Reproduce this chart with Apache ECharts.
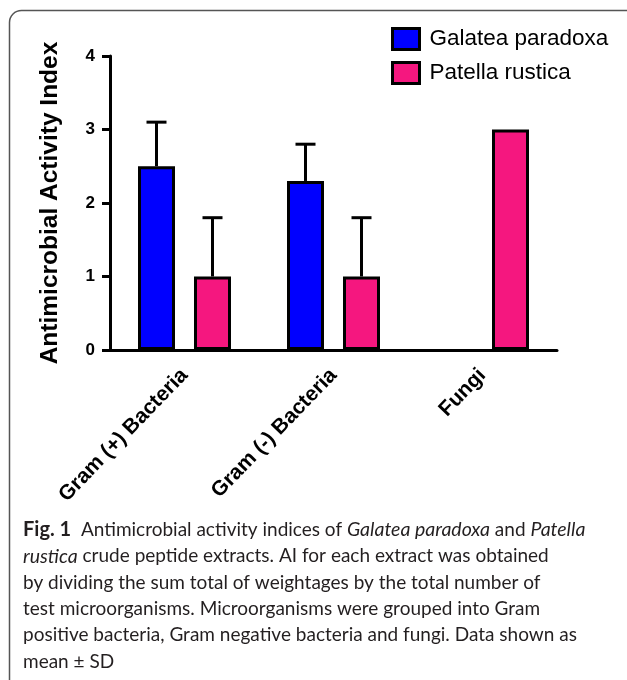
<!DOCTYPE html>
<html>
<head>
<meta charset="utf-8">
<script src="https://cdn.jsdelivr.net/npm/echarts@6/dist/echarts.min.js"></script>
<style>
  html, body { margin: 0; padding: 0; background: #fff; }
  #chart { width: 627px; height: 680px; }
</style>
</head>
<body>
<div id="chart"></div>
<script>
// ---- data ----
var categories = ['Gram (+) Bacteria', 'Gram (-) Bacteria', 'Fungi'];
var seriesNames = ['Galatea paradoxa', 'Patella rustica'];
var galateaMean = [2.5, 2.3, null];   // no bar drawn for fungi
var galateaSD   = [0.6, 0.5, null];
var patellaMean = [1.0, 1.0, 3.0];
var patellaSD   = [0.8, 0.8, null];
var yTicks = [0, 1, 2, 3, 4];

var captionLines = [
  '{b|Fig. 1}  Antimicrobial activity indices of {i|Galatea paradoxa} and {i|Patella}',
  '{i|rustica} crude peptide extracts. AI for each extract was obtained',
  'by dividing the sum total of weightages by the total number of',
  'test microorganisms. Microorganisms were grouped into Gram',
  'positive bacteria, Gram negative bacteria and fungi. Data shown as',
  'mean \u00b1 SD'
];

// ---- style ----
var BLUE = '#0000ff', PINK = '#f5177f';
var BAR_W = 37, GAP_PX = 19;
var OFFSET = (BAR_W + GAP_PX) / 2;
var FONT = 'Liberation Sans, Arial, sans-serif';
var CAP_FONT = 'Lato, sans-serif';
var CAP_SIZE = 19;

function errData(means, sds) {
  var out = [];
  for (var i = 0; i < means.length; i++) {
    if (means[i] != null && sds[i] != null) out.push([i, means[i], means[i] + sds[i]]);
  }
  return out;
}

function errRenderer(sign) {
  return function (params, api) {
    var base = api.coord([api.value(0), api.value(1)]);
    var top = api.coord([api.value(0), api.value(2)]);
    var x = base[0] + sign * OFFSET;
    var capHalf = 10;
    var st = { stroke: '#000', lineWidth: 3 };
    return {
      type: 'group',
      children: [
        { type: 'line', shape: { x1: x, y1: base[1], x2: x, y2: top[1] }, style: st },
        { type: 'line', shape: { x1: x - capHalf, y1: top[1], x2: x + capHalf, y2: top[1] }, style: st }
      ]
    };
  };
}

var graphics = [{
  type: 'rect',
  shape: { x: 9.5, y: 10.5, width: 660, height: 720, r: 12 },
  style: { fill: 'none', stroke: '#555', lineWidth: 1.5 },
  silent: true
}];
var capTop = 530, capStep = 26.3;
captionLines.forEach(function (t, k) {
  graphics.push({
    type: 'text',
    x: 23,
    y: capTop + k * capStep,
    style: {
      text: t,
      verticalAlign: 'middle',
      fontFamily: CAP_FONT,
      fontSize: CAP_SIZE,
      fill: '#231f20',
      rich: {
        b: { fontFamily: CAP_FONT, fontSize: 20, fontWeight: 'bold', fill: '#231f20' },
        i: { fontFamily: CAP_FONT, fontSize: 19.5, fontStyle: 'italic', fill: '#231f20' }
      }
    }
  });
});

var option = {
  animation: false,
  backgroundColor: '#fff',
  grid: { left: 110, right: 70, top: 56, bottom: 330 },
  legend: {
    data: seriesNames,
    orient: 'vertical',
    left: 391,
    top: 27,
    padding: 0,
    itemWidth: 27,
    itemHeight: 21,
    itemGap: 10,
    icon: 'rect',
    itemStyle: { borderColor: '#000', borderWidth: 3 },
    textStyle: { fontFamily: FONT, fontSize: 22.5, color: '#000', padding: [0, 0, 0, 5] }
  },
  xAxis: {
    type: 'category',
    data: categories,
    axisLine: { lineStyle: { color: '#000', width: 3 } },
    axisTick: { alignWithLabel: true, length: 8, lineStyle: { color: '#000', width: 3 } },
    axisLabel: {
      rotate: 46, interval: 0, margin: 22,
      fontFamily: FONT, fontSize: 21, fontWeight: 'bold', color: '#000'
    }
  },
  yAxis: {
    type: 'value',
    min: yTicks[0], max: yTicks[yTicks.length - 1], interval: 1,
    name: 'Antimicrobial Activity Index',
    nameLocation: 'middle',
    nameGap: 47,
    nameTextStyle: { fontFamily: FONT, fontSize: 24.5, fontWeight: 'bold', color: '#000' },
    splitLine: { show: false },
    axisLine: { show: true, lineStyle: { color: '#000', width: 3 } },
    axisTick: { show: true, length: 8, lineStyle: { color: '#000', width: 3 } },
    axisLabel: { margin: 15, fontFamily: FONT, fontSize: 17, fontWeight: 'bold', color: '#000' }
  },
  series: [
    {
      name: seriesNames[0], type: 'bar', data: galateaMean,
      barWidth: BAR_W, barGap: (GAP_PX / BAR_W * 100) + '%',
      itemStyle: { color: BLUE, borderColor: '#000', borderWidth: 3 }
    },
    {
      name: seriesNames[1], type: 'bar', data: patellaMean,
      barWidth: BAR_W,
      itemStyle: { color: PINK, borderColor: '#000', borderWidth: 3 }
    },
    {
      name: 'errG', type: 'custom', data: errData(galateaMean, galateaSD),
      renderItem: errRenderer(-1), z: 1, silent: true
    },
    {
      name: 'errP', type: 'custom', data: errData(patellaMean, patellaSD),
      renderItem: errRenderer(1), z: 1, silent: true
    }
  ],
  graphic: graphics
};

var chart = echarts.init(document.getElementById('chart'), null, { renderer: 'canvas' });
chart.setOption(option);
</script>
</body>
</html>
